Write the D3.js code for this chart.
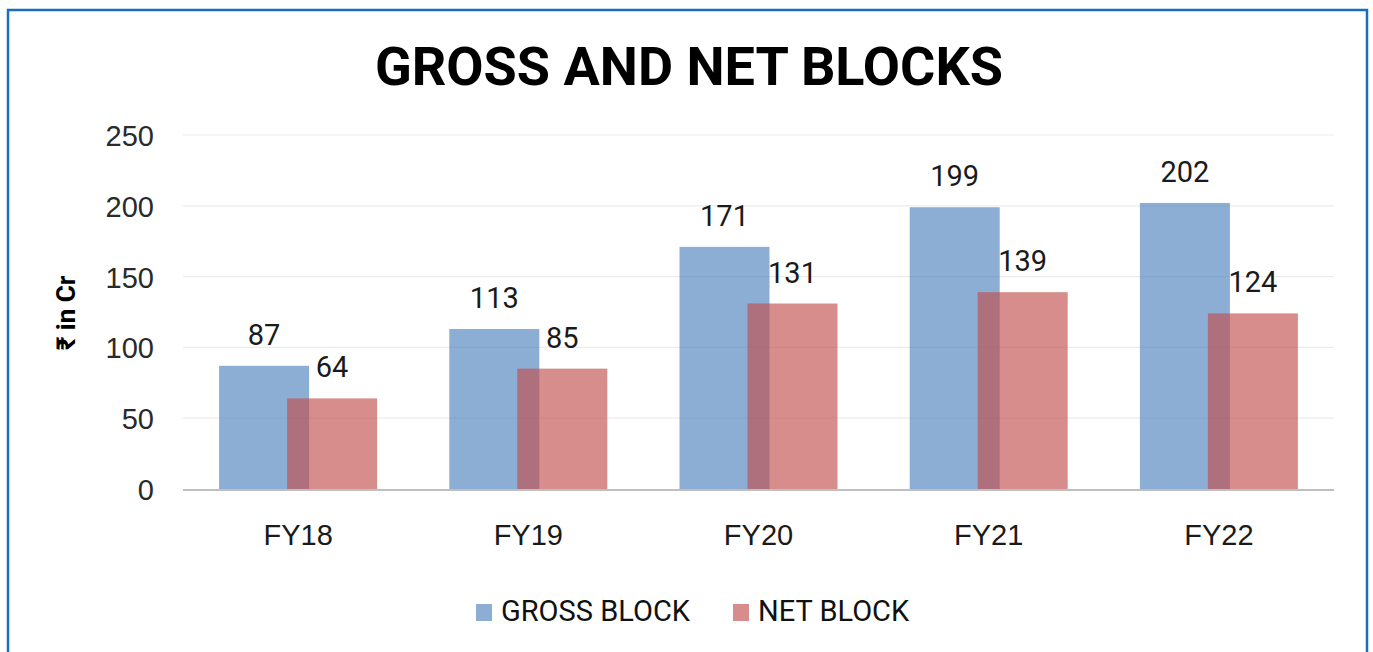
<!DOCTYPE html>
<html>
<head>
<meta charset="utf-8">
<script src="https://cdn.jsdelivr.net/npm/d3@7"></script>
<style>
	body { margin: 0; background: #fff; }
	svg { display: block; font-family: Roboto, "Noto Sans", sans-serif; }
</style>
</head>
<body>
<div id="chart"></div>
<script>
// chart data
let years = ["FY18", "FY19", "FY20", "FY21", "FY22"];
let gross_block = [87, 113, 171, 199, 202];
let net_block = [64, 85, 131, 139, 124];
let y_ticks = [0, 50, 100, 150, 200, 250];
let series_names = ["GROSS BLOCK", "NET BLOCK"];
let colors = ["#4f81bd", "#c0504d"];

let width = 1373;
let height = 652;
let margin = { top: 135, right: 39, bottom: 163, left: 183 };

let svg = d3.select("#chart")
	.append("svg")
	.attr("width", width)
	.attr("height", height);

// blue frame round the chart
svg.append("rect")
	.attr("x", 8)
	.attr("y", 10)
	.attr("width", 1359)
	.attr("height", 660)
	.attr("fill", "none")
	.attr("stroke", "#1a6cbd")
	.attr("stroke-width", 2.5);

svg.append("text")
	.attr("x", 689)
	.attr("y", 85)
	.attr("text-anchor", "middle")
	.attr("font-size", 54)
	.attr("font-weight", "bold")
	.attr("fill", "#000")
	.text("GROSS AND NET BLOCKS");

let x = d3.scaleBand()
	.domain(years)
	.range([margin.left, width - margin.right]);

let y = d3.scaleLinear()
	.domain([0, 250])
	.range([height - margin.bottom, margin.top]);

// gridlines
svg.append("g")
	.selectAll("line")
	.data(y_ticks.slice(1))
	.enter()
	.append("line")
	.attr("x1", margin.left)
	.attr("x2", width - margin.right)
	.attr("y1", d => y(d))
	.attr("y2", d => y(d))
	.attr("stroke", "#ececec")
	.attr("stroke-width", 1.2);

svg.append("g")
	.attr("transform", "translate(154,0)")
	.style("font-size", "29px")
	.call(d3.axisLeft(y).tickValues(y_ticks).tickSize(0).tickPadding(0))
	.call(g => g.selectAll(".domain").remove())
	.call(g => g.selectAll("text").attr("fill", "#2a2a2a").attr("dy", "0.36em"));

svg.append("text")
	.attr("transform", "translate(75,313) rotate(-90)")
	.attr("text-anchor", "middle")
	.attr("font-size", 26)
	.attr("font-weight", "bold")
	.attr("fill", "#000")
	.text("₹ in Cr");

let bar_w = 90;
let offsets = [-79, -11];
let series = [gross_block, net_block];

series.forEach((vals, s) => {
	let g = svg.append("g");
	g.selectAll("rect")
		.data(vals)
		.enter()
		.append("rect")
		.attr("x", (d, i) => x(years[i]) + x.bandwidth() / 2 + offsets[s])
		.attr("y", d => y(d))
		.attr("width", bar_w)
		.attr("height", d => y(0) - y(d))
		.attr("fill", colors[s])
		.attr("fill-opacity", 0.65);
});

series.forEach((vals, s) => {
	svg.append("g")
		.selectAll("text")
		.data(vals)
		.enter()
		.append("text")
		.attr("x", (d, i) => x(years[i]) + x.bandwidth() / 2 + offsets[s] + bar_w / 2)
		.attr("y", d => y(d) - 21)
		.attr("text-anchor", "middle")
		.attr("font-size", 29)
		.attr("fill", "#1a1a1a")
		.text(d => d);
});

// axis line at zero
svg.append("line")
	.attr("x1", margin.left)
	.attr("x2", width - margin.right)
	.attr("y1", y(0) + 1)
	.attr("y2", y(0) + 1)
	.attr("stroke", "#bfbfbf")
	.attr("stroke-width", 2);

svg.append("g")
	.attr("transform", "translate(0," + (y(0) + 35) + ")")
	.style("font-size", "29px")
	.call(d3.axisBottom(x).tickSize(0).tickPadding(0))
	.call(g => g.selectAll(".domain").remove())
	.call(g => g.selectAll("text").attr("fill", "#1a1a1a").attr("dy", "0.71em"));

// legend
let legend_x = [476, 733];
series_names.forEach((name, i) => {
	svg.append("rect")
		.attr("x", legend_x[i])
		.attr("y", 604)
		.attr("width", 16)
		.attr("height", 17)
		.attr("fill", colors[i])
		.attr("fill-opacity", 0.65);
	svg.append("text")
		.attr("x", legend_x[i] + 25)
		.attr("y", 621)
		.attr("font-size", 29)
		.attr("fill", "#111")
		.text(name);
});
</script>
</body>
</html>
